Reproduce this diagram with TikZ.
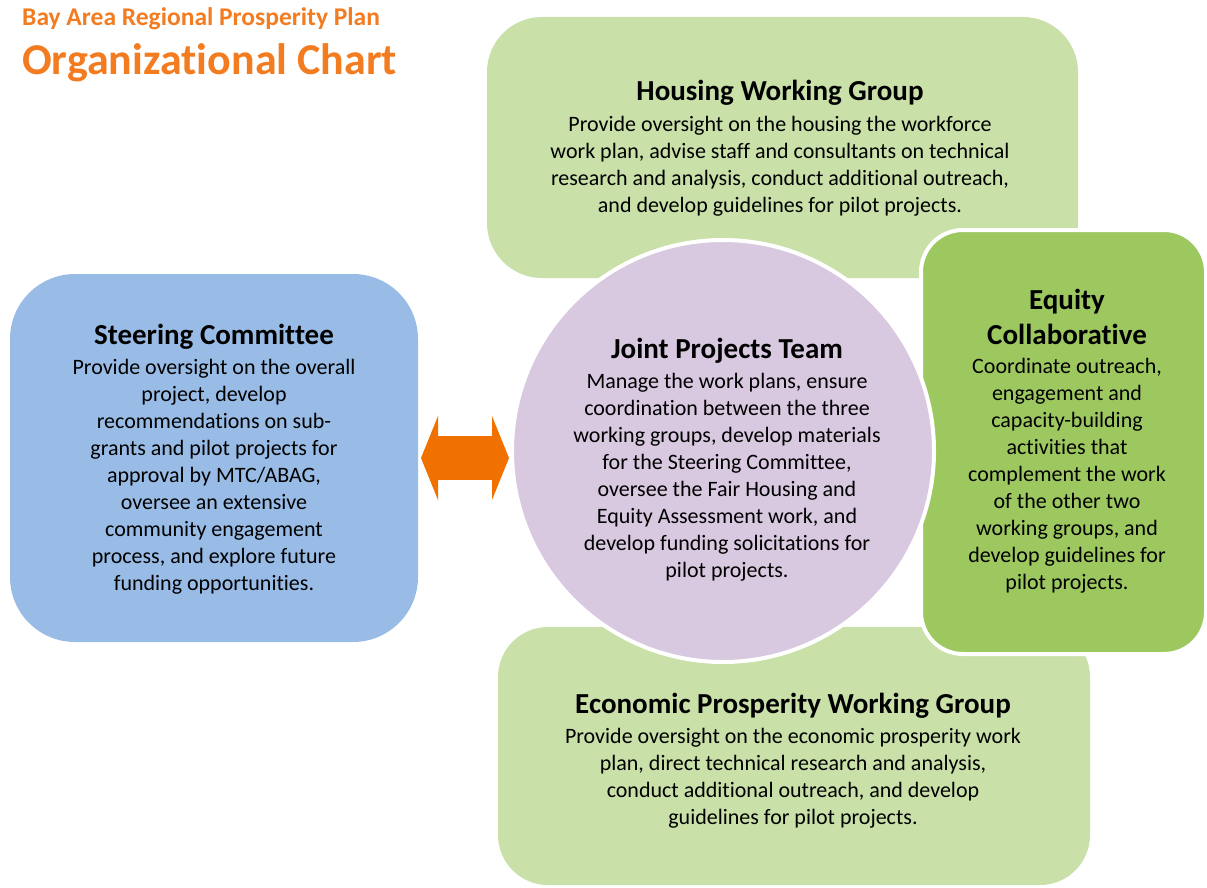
\documentclass[tikz,border=0pt]{standalone}
\usepackage{fontspec}
\setmainfont{Carlito}[Ligatures=NoCommon]
\usetikzlibrary{positioning,arrows.meta}
\definecolor{wgreen}{RGB}{201,224,169}
\definecolor{eqgreen}{RGB}{157,200,96}
\definecolor{scblue}{RGB}{153,188,231}
\definecolor{jplilac}{RGB}{216,200,224}
\definecolor{arrorange}{RGB}{240,112,0}
\definecolor{titleorange}{RGB}{244,124,32}

\begin{document}
\begin{tikzpicture}[x=1pt, y=-1pt,
  panel/.style={inner sep=0pt, outer sep=0pt},
  head/.style={font=\fontsize{29}{35}\selectfont\bfseries, inner sep=0pt, anchor=base},
  txt/.style={font=\fontsize{22}{27}\selectfont, align=center, inner sep=0pt,
    execute at begin node=\strut},
  fat arrow/.style={draw=arrorange, line width=44pt,
    >={Triangle[length=17pt, width=84pt, line width=0pt]}, <->}]
  % page in pixels: 1207 x 888, y runs downwards
  \useasboundingbox (0,0) rectangle (1207,888);
  % boxes behind, then equity box and the circle with a white rim
  \node[panel, fill=wgreen, rounded corners=55pt, minimum width=591pt, minimum height=261pt] (hwg) at (782.5,147.5) {};
  \node[panel, fill=wgreen, rounded corners=50pt, minimum width=592pt, minimum height=258pt] (epwg) at (794,756) {};
  \node[panel, fill=scblue, rounded corners=65pt, minimum width=408pt, minimum height=368pt] (sc) at (214,458) {};
  \node[panel, fill=eqgreen, draw=white, line width=4pt, rounded corners=42pt, minimum width=285pt, minimum height=424pt] (eqc) at (1063.5,442) {};
  \node[panel, circle, fill=jplilac, draw=white, line width=4pt, minimum size=422pt] (jpt) at (723,451) {};
  \draw[fat arrow] ([xshift=3pt]sc.east) -- ([xshift=-3pt]sc.east -| jpt.west);

  % headline
  \node[anchor=base west, inner sep=0pt, text=titleorange, font=\fontsize{25.5}{30}\selectfont\bfseries] (plan) at (22,26) {Bay Area Regional Prosperity Plan};
  \node[anchor=base west, inner sep=0pt, text=titleorange, font=\fontsize{44}{52}\selectfont\bfseries] (chart) at (22,75) {Organizational Chart};

  % texts
  \node[head] (hwgT) at (780,101) {Housing Working Group};
  \node[txt, below=15pt of hwgT.base] (hwgB) {Provide oversight on the housing the workforce\\work plan, advise staff and consultants on technical\\research and analysis, conduct additional outreach,\\and develop guidelines for pilot projects.};
  \node[head] (scT) at (214,344) {Steering Committee};
  \node[txt, below=15pt of scT.base] (scB) {Provide oversight on the overall\\project, develop\\recommendations on sub-\\grants and pilot projects for\\approval by MTC/ABAG,\\oversee an extensive\\community engagement\\process, and explore future\\funding opportunities.};
  \node[head] (jptT) at (727,358) {Joint Projects Team};
  \node[txt, below=15pt of jptT.base] (jptB) {Manage the work plans, ensure\\coordination between the three\\working groups, develop materials\\for the Steering Committee,\\oversee the Fair Housing and\\Equity Assessment work, and\\develop funding solicitations for\\pilot projects.};
  \node[head] (eqcT) at (1067,309) {Equity};
  \node[head] (eqcT2) at ([yshift=-35pt]eqcT.base) {Collaborative};
  \node[txt, below=14pt of eqcT2.base] (eqcB) {Coordinate outreach,\\engagement and\\capacity-building\\activities that\\complement the work\\of the other two\\working groups, and\\develop guidelines for\\pilot projects.};
  \node[head] (epwgT) at (793,713) {Economic Prosperity Working Group};
  \node[txt, below=15pt of epwgT.base] (epwgB) {Provide oversight on the economic prosperity work\\plan, direct technical research and analysis,\\conduct additional outreach, and develop\\guidelines for pilot projects.};
\end{tikzpicture}
\end{document}
